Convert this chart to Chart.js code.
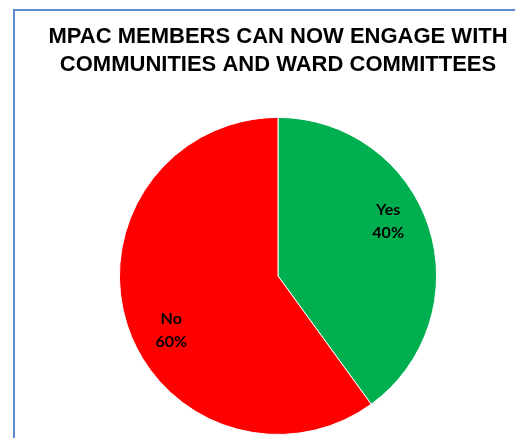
<!DOCTYPE html>
<html>
<head>
<meta charset="utf-8">
<script src="https://cdn.jsdelivr.net/npm/chart.js@4/dist/chart.umd.min.js"></script>
<style>
    html, body { margin: 0; padding: 0; background: #fff; overflow: hidden; width: 515px; height: 438px; }
    #marco {
        position: absolute; left: 13px; top: 9px;
        width: 600px; height: 600px;
        border: 2px solid #5B8BD0;
        box-sizing: border-box;
    }
    #contenedor { position: absolute; left: 15px; top: 11px; width: 526px; height: 427px; }
</style>
</head>
<body>
<div id="marco"></div>
<div id="contenedor"><canvas id="graficoMpac" width="526" height="427"></canvas></div>
<script>
const categorias = ["Yes", "No"];
const porcentajes = [40, 60];
const colores = ["#00B050", "#FF0000"];
const titulo = ["MPAC MEMBERS CAN NOW ENGAGE WITH", "COMMUNITIES AND WARD COMMITTEES"];

// ajuste de posición de cada etiqueta (fracción del radio, giro en grados)
const ajusteEtiquetas = [
    { radio: 0.775, giro: -8.3 },
    { radio: 0.757, giro: -9.2 }
];

const etiquetasPlugin = {
    id: "etiquetas",
    afterDatasetsDraw(chart) {
        const ctx = chart.ctx;
        const meta = chart.getDatasetMeta(0);
        ctx.save();
        ctx.font = "bold 16px Lato, 'Open Sans', sans-serif";
        ctx.fillStyle = "#000";
        ctx.textAlign = "center";
        ctx.textBaseline = "middle";
        meta.data.forEach((arc, i) => {
            const p = arc.getProps(["x", "y", "startAngle", "endAngle", "outerRadius"], true);
            const ang = (p.startAngle + p.endAngle) / 2 + ajusteEtiquetas[i].giro * Math.PI / 180;
            const r = p.outerRadius * ajusteEtiquetas[i].radio;
            const x = p.x + Math.cos(ang) * r;
            const y = p.y + Math.sin(ang) * r;
            ctx.fillText(categorias[i], x, y - 11.5);
            ctx.fillText(porcentajes[i] + "%", x, y + 11.5);
        });
        ctx.restore();
    }
};

window.addEventListener("DOMContentLoaded", () => {
    const ctx = document.getElementById("graficoMpac").getContext("2d");
    new Chart(ctx, {
        type: "pie",
        data: {
            labels: categorias,
            datasets: [{
                data: porcentajes,
                backgroundColor: colores,
                borderColor: "#ffffff",
                borderWidth: 1
            }]
        },
        options: {
            responsive: false,
            animation: false,
            layout: { padding: { bottom: 3 } },
            plugins: {
                legend: { display: false },
                tooltip: { enabled: false },
                title: {
                    display: true,
                    text: titulo,
                    color: "#000",
                    font: { family: "'Liberation Sans', Arial, sans-serif", size: 22, weight: "bold", lineHeight: 1.27 },
                    padding: { top: 12, bottom: 38 }
                }
            }
        },
        plugins: [etiquetasPlugin]
    });
});
</script>
</body>
</html>
